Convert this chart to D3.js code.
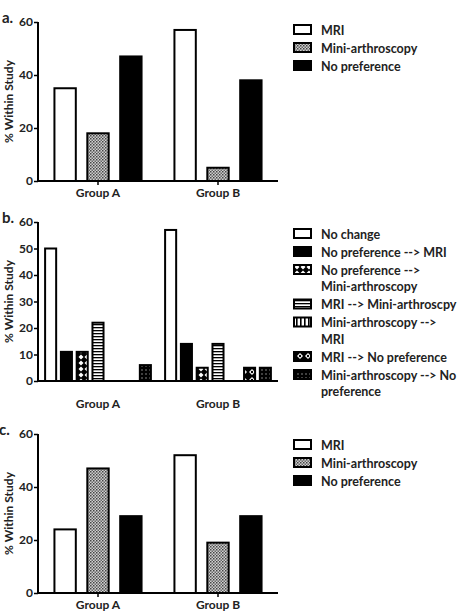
<!DOCTYPE html>
<html>
<head>
<meta charset="utf-8">
<script src="https://cdn.jsdelivr.net/npm/d3@7"></script>
<style>
    body { margin: 0; background: #fff; }
    text { font-family: Lato, "DejaVu Sans", sans-serif; font-weight: bold; fill: #222; }
</style>
</head>
<body>
<svg id="chart" width="458" height="616"></svg>
<script>
/*************************************************
    Data:
 *************************************************/
var groups = ["Group A", "Group B"];

// panel a: preference before
var prefSeries = ["MRI", "Mini-arthroscopy", "No preference"];
var prefA = [[35, 18, 47], [57, 5, 38]];

// panel b: change of preference
var changeSeries = ["No change", "No preference --> MRI", "No preference -->\nMini-arthroscopy",
    "MRI --> Mini-arthroscpy", "Mini-arthroscopy -->\nMRI", "MRI --> No preference",
    "Mini-arthroscopy --> No\npreference"];
var changeB = [[50, 11, 11, 22, 0, 0, 6], [57, 14, 5, 14, 0, 5, 5]];

// panel c: preference after
var prefC = [[24, 47, 29], [52, 19, 29]];

var ticksAC = [0, 20, 40, 60];
var ticksB = [0, 10, 20, 30, 40, 50, 60];

/*************************************************
    Patterns:
 *************************************************/
var svg = d3.select("#chart");
var defs = svg.append("defs");

function makePattern(id, w, h, bg, draw) {
    var p = defs.append("pattern")
        .attr("id", id)
        .attr("patternUnits", "userSpaceOnUse")
        .attr("width", w).attr("height", h);
    p.append("rect").attr("width", w).attr("height", h).attr("fill", bg);
    draw(p);
}

makePattern("checker", 3, 3, "#d0d0d0", function(p) {
    p.append("rect").attr("x", 0).attr("y", 0).attr("width", 1.5).attr("height", 1.5).attr("fill", "#444");
    p.append("rect").attr("x", 1.5).attr("y", 1.5).attr("width", 1.5).attr("height", 1.5).attr("fill", "#666");
});
makePattern("crosses", 6, 6, "#000", function(p) {
    p.append("path").attr("d", "M3,0.5 L5.5,3 L3,5.5 L0.5,3 Z").attr("fill", "#fff");
});
makePattern("hstripes", 4, 3, "#fff", function(p) {
    p.append("rect").attr("y", 0).attr("width", 4).attr("height", 1.3).attr("fill", "#000");
});
makePattern("vstripes", 4, 4, "#fff", function(p) {
    p.append("rect").attr("x", 0).attr("width", 1.6).attr("height", 4).attr("fill", "#000");
});
makePattern("diamonds", 8, 8, "#000", function(p) {
    p.append("path").attr("d", "M4,1 L7,4 L4,7 L1,4 Z").attr("fill", "#fff");
    p.append("circle").attr("cx", 4).attr("cy", 4).attr("r", 1.2).attr("fill", "#000");
});
makePattern("dots", 4, 4, "#000", function(p) {
    p.append("rect").attr("x", 1.5).attr("y", 1.5).attr("width", 1).attr("height", 1).attr("fill", "#fff");
});

var prefFills = ["#fff", "url(#checker)", "#000"];
var changeFills = ["#fff", "#000", "url(#crosses)", "url(#hstripes)", "url(#vstripes)", "url(#diamonds)", "url(#dots)"];

/*************************************************
    Panels:
 *************************************************/
function drawPanel(opt) {
    var g = svg.append("g");
    var x0 = 38, x1 = 278;

    var y = d3.scaleLinear().domain([0, 60]).range([opt.bottom, opt.top]);
    var xg = d3.scaleBand().domain(groups).range([x0, x1]);
    var xs = d3.scaleBand().domain(d3.range(opt.series.length))
        .range([0, xg.bandwidth()])
        .paddingInner(opt.padIn).paddingOuter(opt.padOut);

    // bars (zero values are not drawn)
    groups.forEach(function(grp, gi) {
        var data = opt.values[gi]
            .map(function(v, i) { return { v: v, i: i }; })
            .filter(function(d) { return d.v > 0; });
        g.selectAll(null)
            .data(data)
            .enter().append("rect")
            .attr("x", function(d) { return xg(grp) + xs(d.i); })
            .attr("y", function(d) { return y(d.v); })
            .attr("width", xs.bandwidth())
            .attr("height", function(d) { return y(0) - y(d.v); })
            .attr("fill", function(d) { return opt.fills[d.i]; })
            .attr("stroke", "#000")
            .attr("stroke-width", 2);
    });

    // y axis
    var yAxis = g.append("g")
        .attr("transform", "translate(" + x0 + ",0)")
        .call(d3.axisLeft(y).tickValues(opt.ticks).tickSize(4).tickPadding(1));
    yAxis.select(".domain").attr("stroke-width", 2).attr("d", "M0," + y(0) + "V" + y(60));
    yAxis.selectAll(".tick line").attr("stroke-width", 1.5);
    yAxis.selectAll("text").style("font-size", "12px").attr("fill", "#222");

    // x axis
    g.append("line")
        .attr("x1", x0).attr("x2", x1)
        .attr("y1", y(0)).attr("y2", y(0))
        .attr("stroke", "#000").attr("stroke-width", 2);
    groups.forEach(function(grp) {
        var cx = xg(grp) + xg.bandwidth() / 2;
        if (opt.xTicks) {
            g.append("line")
                .attr("x1", cx).attr("x2", cx)
                .attr("y1", y(0)).attr("y2", y(0) + 4)
                .attr("stroke", "#000").attr("stroke-width", 1.5);
        }
        g.append("text")
            .attr("x", cx).attr("y", y(0) + opt.labelGap)
            .attr("text-anchor", "middle")
            .style("font-size", "12px")
            .text(grp);
    });

    // axis title
    g.append("text")
        .attr("transform", "translate(13," + (opt.top + opt.bottom) / 2 + ") rotate(-90)")
        .attr("text-anchor", "middle")
        .style("font-size", "12px")
        .text("% Within Study");

    // panel letter
    g.append("text")
        .attr("x", opt.letterX).attr("y", opt.top + 1)
        .style("font-size", "15px")
        .text(opt.letter);

    // legend
    var ly = opt.legendTop;
    opt.series.forEach(function(name, i) {
        var lines = name.split("\n");
        g.append("rect")
            .attr("x", 294).attr("y", ly - 5)
            .attr("width", 17).attr("height", 9)
            .attr("fill", opt.fills[i])
            .attr("stroke", "#000").attr("stroke-width", 2);
        lines.forEach(function(t, li) {
            g.append("text")
                .attr("x", 321).attr("y", ly + 4.5 + li * 16.5)
                .style("font-size", "12.5px")
                .text(t);
        });
        ly += 18 + (lines.length - 1) * 16.5;
    });
}

drawPanel({
    letter: "a.", letterX: 2, top: 22, bottom: 181,
    series: prefSeries, values: prefA, fills: prefFills, ticks: ticksAC,
    padIn: 0.35, padOut: 0.5, xTicks: true, labelGap: 16, legendTop: 30
});

drawPanel({
    letter: "b.", letterX: 2, top: 222, bottom: 381,
    series: changeSeries, values: changeB, fills: changeFills, ticks: ticksB,
    padIn: 0.3, padOut: 0.45, xTicks: false, labelGap: 27, legendTop: 234
});

drawPanel({
    letter: "c.", letterX: -1, top: 434, bottom: 593,
    series: prefSeries, values: prefC, fills: prefFills, ticks: ticksAC,
    padIn: 0.35, padOut: 0.5, xTicks: true, labelGap: 16, legendTop: 445
});
</script>
</body>
</html>
